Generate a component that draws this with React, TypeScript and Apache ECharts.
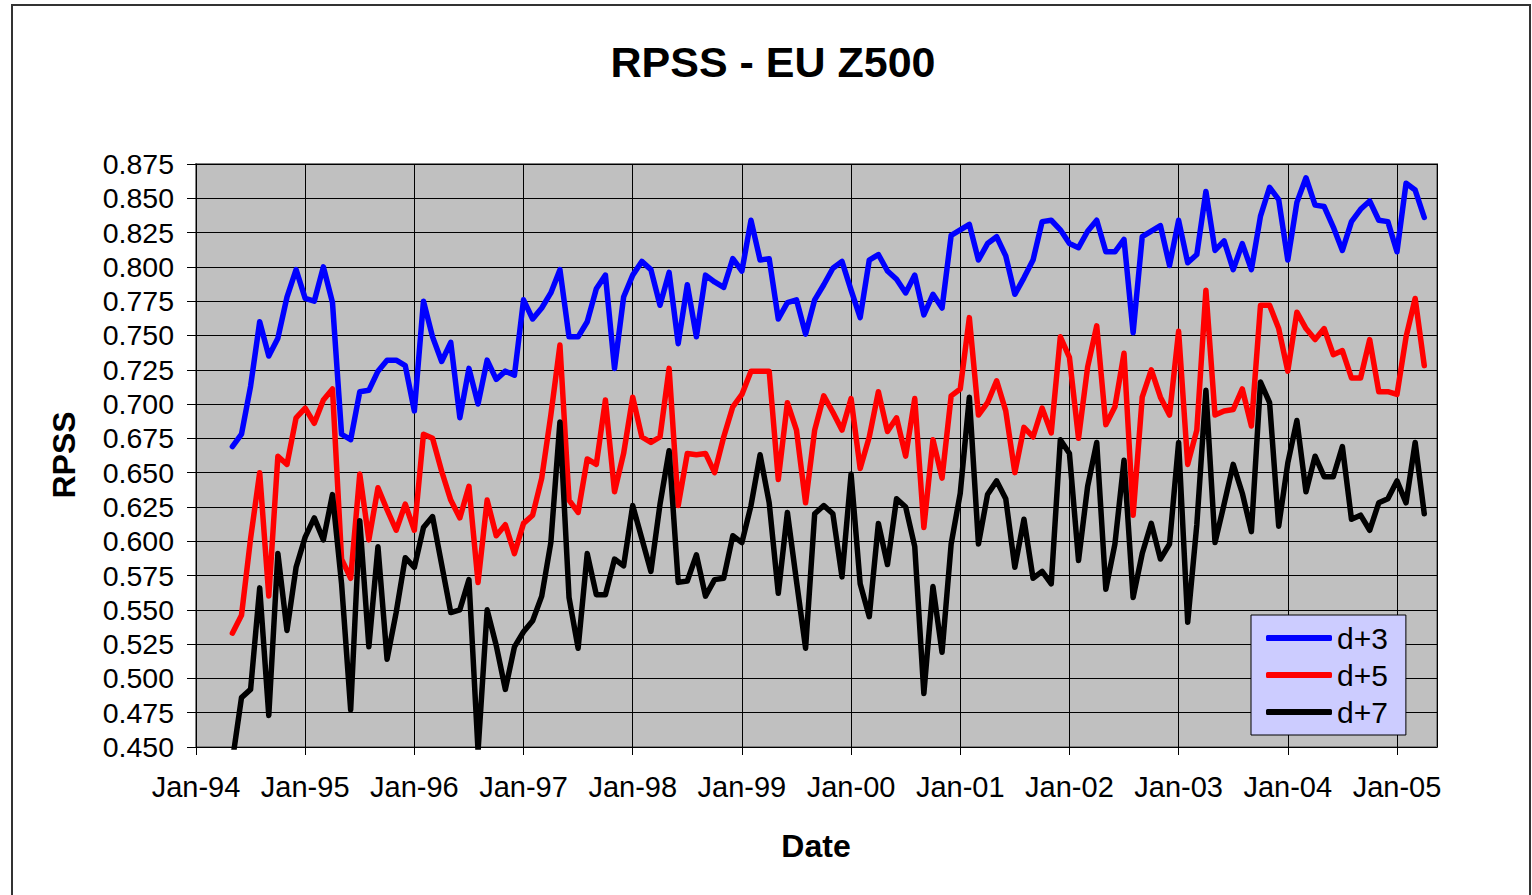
import React, { useEffect, useRef } from "react";
import * as echarts from "echarts";

// First data point: May 1994 (month index counted from Jan-94 = 0)
const startMonthIndex = 4;

const yearLabels = [
  "Jan-94", "Jan-95", "Jan-96", "Jan-97", "Jan-98", "Jan-99",
  "Jan-00", "Jan-01", "Jan-02", "Jan-03", "Jan-04", "Jan-05",
];

const d3 = [
  0.669, 0.678, 0.713, 0.760, 0.735, 0.748, 0.778, 0.798, 0.777, 0.775,
  0.800, 0.774, 0.678, 0.674, 0.709, 0.710, 0.724, 0.732, 0.732, 0.728,
  0.695, 0.775, 0.749, 0.731, 0.745, 0.690, 0.726, 0.700, 0.732, 0.718,
  0.724, 0.721, 0.776, 0.762, 0.770, 0.781, 0.798, 0.749, 0.749, 0.760,
  0.784, 0.794, 0.726, 0.778, 0.794, 0.804, 0.798, 0.772, 0.796, 0.744,
  0.787, 0.749, 0.794, 0.789, 0.785, 0.806, 0.797, 0.834, 0.805, 0.806,
  0.762, 0.774, 0.776, 0.751, 0.776, 0.787, 0.799, 0.804, 0.783, 0.763,
  0.805, 0.809, 0.797, 0.791, 0.781, 0.794, 0.765, 0.780, 0.770, 0.823,
  0.827, 0.831, 0.805, 0.817, 0.822, 0.808, 0.780, 0.792, 0.805, 0.833,
  0.834, 0.827, 0.817, 0.814, 0.826, 0.834, 0.811, 0.811, 0.820, 0.752,
  0.822, 0.826, 0.830, 0.801, 0.834, 0.803, 0.809, 0.855, 0.812, 0.819,
  0.798, 0.817, 0.798, 0.837, 0.858, 0.849, 0.805, 0.847, 0.865, 0.845,
  0.844, 0.829, 0.812, 0.833, 0.842, 0.848, 0.834, 0.833, 0.811, 0.861,
  0.856, 0.836,
];

const d5 = [
  0.533, 0.546, 0.602, 0.650, 0.560, 0.662, 0.656, 0.690, 0.697, 0.686,
  0.703, 0.711, 0.587, 0.573, 0.649, 0.601, 0.639, 0.623, 0.608, 0.627,
  0.608, 0.678, 0.675, 0.651, 0.630, 0.617, 0.640, 0.570, 0.630, 0.604,
  0.612, 0.591, 0.613, 0.619, 0.646, 0.692, 0.743, 0.630, 0.621, 0.660,
  0.656, 0.703, 0.636, 0.664, 0.705, 0.676, 0.672, 0.676, 0.726, 0.626,
  0.664, 0.663, 0.664, 0.650, 0.676, 0.698, 0.707, 0.724, 0.724, 0.724,
  0.645, 0.701, 0.681, 0.628, 0.681, 0.706, 0.694, 0.681, 0.704, 0.653,
  0.676, 0.709, 0.680, 0.690, 0.662, 0.704, 0.610, 0.674, 0.646, 0.706,
  0.711, 0.763, 0.692, 0.701, 0.717, 0.695, 0.650, 0.683, 0.676, 0.697,
  0.679, 0.749, 0.734, 0.675, 0.727, 0.757, 0.685, 0.698, 0.737, 0.619,
  0.705, 0.725, 0.705, 0.692, 0.753, 0.656, 0.681, 0.783, 0.692, 0.695,
  0.696, 0.711, 0.684, 0.772, 0.772, 0.755, 0.724, 0.767, 0.755, 0.747,
  0.755, 0.736, 0.739, 0.719, 0.719, 0.747, 0.709, 0.709, 0.707, 0.749,
  0.777, 0.728,
];

const d7 = [
  0.440, 0.486, 0.492, 0.566, 0.473, 0.591, 0.535, 0.581, 0.603, 0.617,
  0.601, 0.634, 0.569, 0.477, 0.615, 0.523, 0.596, 0.514, 0.548, 0.588,
  0.581, 0.610, 0.618, 0.583, 0.548, 0.550, 0.572, 0.447, 0.550, 0.524,
  0.492, 0.523, 0.534, 0.542, 0.560, 0.599, 0.687, 0.559, 0.522, 0.591,
  0.561, 0.561, 0.587, 0.582, 0.626, 0.602, 0.578, 0.627, 0.666, 0.570,
  0.571, 0.590, 0.560, 0.572, 0.573, 0.604, 0.599, 0.626, 0.663, 0.628,
  0.562, 0.621, 0.571, 0.522, 0.620, 0.626, 0.620, 0.574, 0.649, 0.569,
  0.545, 0.613, 0.583, 0.631, 0.625, 0.596, 0.489, 0.567, 0.519, 0.598,
  0.635, 0.705, 0.598, 0.634, 0.644, 0.631, 0.581, 0.616, 0.573, 0.578,
  0.569, 0.674, 0.664, 0.586, 0.640, 0.672, 0.565, 0.598, 0.659, 0.559,
  0.591, 0.613, 0.587, 0.598, 0.672, 0.541, 0.612, 0.710, 0.599, 0.627,
  0.656, 0.635, 0.607, 0.716, 0.701, 0.611, 0.657, 0.688, 0.636, 0.662,
  0.647, 0.647, 0.669, 0.616, 0.619, 0.608, 0.628, 0.631, 0.644, 0.628,
  0.672, 0.620,
];

const seriesNames = ["d+3", "d+5", "d+7"];
const seriesColors = ["#0000FF", "#FF0000", "#000000"];
const seriesValues = [d3, d5, d7];

const FONT = "'Liberation Sans', Arial, Helvetica, sans-serif";

export default function App() {
  const ref = useRef<HTMLDivElement | null>(null);

  useEffect(() => {
    if (!ref.current) return;
    const chart = echarts.init(ref.current, null, { renderer: "svg" });

    const series = seriesValues.map((vals, k) => ({
      name: seriesNames[k],
      type: "line",
      data: vals.map((v, i) => [startMonthIndex + i, v]),
      showSymbol: false,
      symbol: "none",
      clip: true,
      lineStyle: { color: seriesColors[k], width: 5.5, join: "round", cap: "round" },
      itemStyle: { color: seriesColors[k] },
      z: 3,
    }));

    chart.setOption({
      animation: false,
      backgroundColor: "#FFFFFF",
      grid: {
        left: 196,
        top: 164,
        right: 95,
        bottom: 148,
        show: true,
        backgroundColor: "#C0C0C0",
        borderColor: "#808080",
        borderWidth: 2,
      },
      xAxis: {
        type: "value",
        min: 0,
        max: 136.4,
        interval: 12,
        axisLine: { show: true, onZero: false, lineStyle: { color: "#000", width: 1 } },
        axisTick: { show: true, length: 8, lineStyle: { color: "#000", width: 1 } },
        splitLine: { show: true, lineStyle: { color: "#000", width: 1 } },
        axisLabel: {
          margin: 25,
          fontSize: 29,
          fontFamily: FONT,
          color: "#000",
          showMaxLabel: false,
          formatter: (v: number) => (v % 12 === 0 ? yearLabels[v / 12] ?? "" : ""),
        },
      },
      yAxis: {
        type: "value",
        min: 0.45,
        max: 0.875,
        interval: 0.025,
        axisLine: { show: true, lineStyle: { color: "#000", width: 1 } },
        axisTick: { show: true, length: 9, lineStyle: { color: "#000", width: 1 } },
        splitLine: { show: true, lineStyle: { color: "#000", width: 1 } },
        axisLabel: {
          margin: 22,
          fontSize: 28.5,
          fontFamily: FONT,
          color: "#000",
          formatter: (v: number) => v.toFixed(3),
        },
      },
      legend: {
        orient: "vertical",
        left: 1251,
        top: 615,
        data: seriesNames,
        backgroundColor: "#CCCCFF",
        borderColor: "#000",
        borderWidth: 1,
        borderRadius: 0,
        padding: [8, 18, 8, 15],
        itemWidth: 66,
        itemHeight: 6,
        itemGap: 7,
        icon: "roundRect",
        textStyle: { fontSize: 30, fontFamily: FONT, color: "#000", lineHeight: 30 },
      },
      graphic: [
        {
          type: "rect",
          shape: { x: 12, y: 5, width: 1518, height: 910 },
          style: { fill: "none", stroke: "#333", lineWidth: 2 },
          silent: true,
        },
        {
          type: "text",
          x: 773,
          y: 62,
          style: {
            text: "RPSS - EU Z500",
            font: `bold 43px ${FONT}`,
            fill: "#000",
            textAlign: "center",
            textVerticalAlign: "middle",
          },
        },
        {
          type: "text",
          x: 64,
          y: 455,
          rotation: Math.PI / 2,
          style: {
            text: "RPSS",
            font: `bold 32px ${FONT}`,
            fill: "#000",
            textAlign: "center",
            textVerticalAlign: "middle",
          },
        },
        {
          type: "text",
          x: 816,
          y: 846,
          style: {
            text: "Date",
            font: `bold 32px ${FONT}`,
            fill: "#000",
            textAlign: "center",
            textVerticalAlign: "middle",
          },
        },
      ],
      series,
    });

    return () => chart.dispose();
  }, []);

  return (
    <div
      ref={ref}
      style={{ position: "fixed", left: 0, top: 0, width: 1532, height: 895, background: "#fff" }}
    />
  );
}
